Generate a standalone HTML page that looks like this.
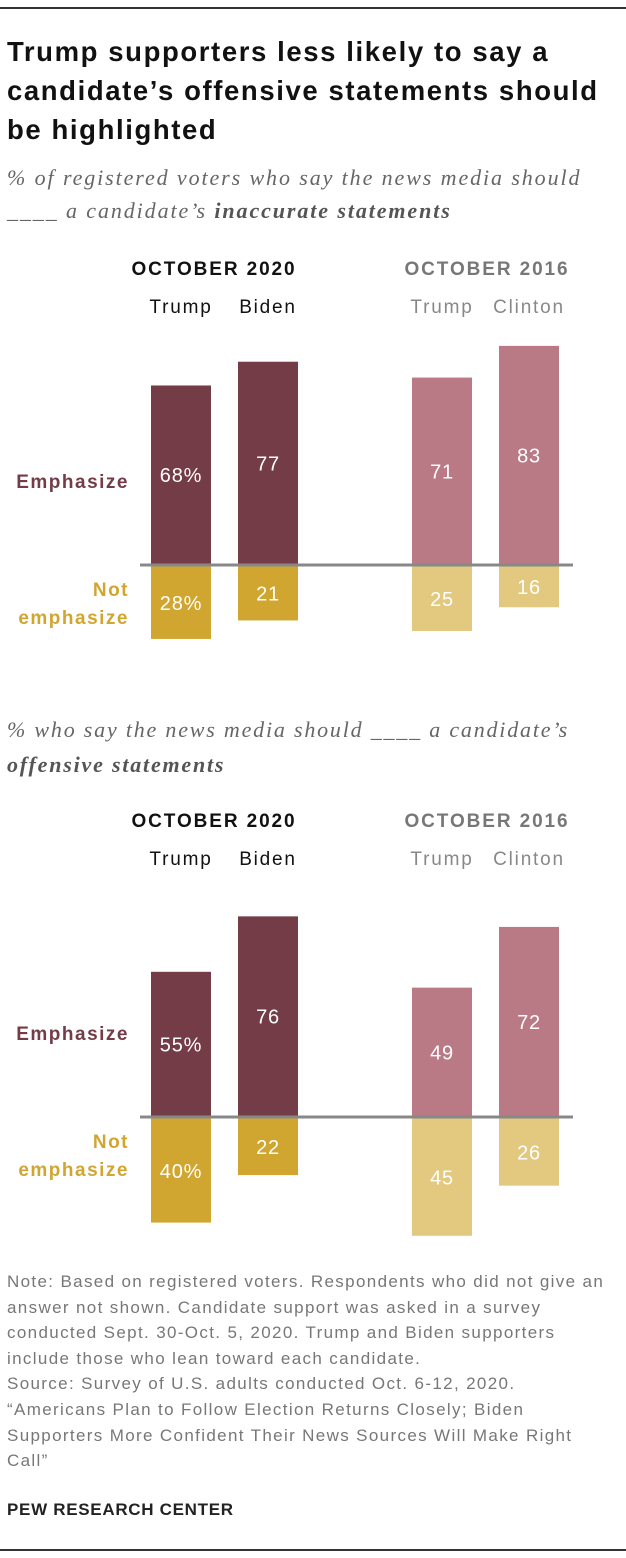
<!DOCTYPE html>
<html><head><meta charset="utf-8">
<style>
body{margin:0;width:626px;height:1558px;background:#fff;font-family:"Liberation Sans",sans-serif;position:relative;overflow:hidden}
.t{position:absolute;white-space:nowrap}
</style></head>
<body>
<div style="position:absolute;left:0;top:7px;width:626px;height:2px;background:#333"></div>
<div class="t" style="left:7px;top:32px;font-size:27.5px;font-weight:bold;line-height:39px;color:#111;letter-spacing:1.6px">Trump supporters less likely to say a<br>candidate’s offensive statements should<br>be highlighted</div>
<div class="t" style="left:7px;top:161px;font-family:'Liberation Serif',serif;font-style:italic;font-size:22px;line-height:33px;color:#666;letter-spacing:1.9px">% of registered voters who say the news media should<br>____ a candidate’s <b style="color:#555">inaccurate statements</b></div>
<div class="t" style="left:7px;top:712px;font-family:'Liberation Serif',serif;font-style:italic;font-size:22px;line-height:35px;color:#666;letter-spacing:1.8px">% who say the news media should ____ a candidate’s<br><b style="color:#555">offensive statements</b></div>
<svg id="chart" width="626" height="1260" style="position:absolute;left:0;top:0"></svg>
<div class="t" style="left:7px;top:1269px;font-size:17px;line-height:25.6px;color:#777;letter-spacing:1.35px">Note: Based on registered voters. Respondents who did not give an<br>answer not shown. Candidate support was asked in a survey<br>conducted Sept. 30-Oct. 5, 2020. Trump and Biden supporters<br>include those who lean toward each candidate.<br>Source: Survey of U.S. adults conducted Oct. 6-12, 2020.<br>“Americans Plan to Follow Election Returns Closely; Biden<br>Supporters More Confident Their News Sources Will Make Right<br>Call”</div>
<div class="t" style="left:7px;top:1500px;font-size:17px;font-weight:bold;color:#222;letter-spacing:0.7px">PEW RESEARCH CENTER</div>
<div style="position:absolute;left:0;top:1549px;width:626px;height:2px;background:#333"></div>
<script>
const candidates=["Trump","Biden","Trump","Clinton"];
const years=["OCTOBER 2020","OCTOBER 2016"];
const emph1=[68,77,71,83];
const notEmph1=[28,21,25,16];
const emph2=[55,76,49,72];
const notEmph2=[40,22,45,26];
const emphLabels1=["68%","77","71","83"];
const notLabels1=["28%","21","25","16"];
const emphLabels2=["55%","76","49","72"];
const notLabels2=["40%","22","45","26"];
const svg=document.getElementById('chart');
const NS="http://www.w3.org/2000/svg";
const K=2.64;
const xs=[151,238,412,499],BW=60;
const colE=["#733c47","#733c47","#b97a86","#b97a86"];
const colN=["#d1a630","#d1a630","#e2c97f","#e2c97f"];
function el(tag,attrs,txt){const e=document.createElementNS(NS,tag);for(const k in attrs)e.setAttribute(k,attrs[k]);if(txt!=null)e.textContent=txt;svg.appendChild(e);return e;}
function panel(base,hy,emph,nots,el1,nl1,idx){
  const y0=[214,487];const yc=["#111","#777"];
  years.forEach((yr,i)=>{const t=el('text',{x:y0[i],y:hy,'text-anchor':'middle','font-size':19,'font-weight':'bold',fill:yc[i],'letter-spacing':1.9},yr);
    
    });
  candidates.forEach((c,i)=>{const t=el('text',{x:xs[i]+BW/2,y:hy+38,'text-anchor':'middle','font-size':19,fill:i<2?'#111':'#888','letter-spacing':1.8},c);
    
    });
  emph.forEach((v,i)=>{const h=v*K;
    const r=el('rect',{x:xs[i],y:base-h,width:BW,height:h,fill:colE[i]});
    
    
    const t=el('text',{x:xs[i]+BW/2,y:base-h/2+7,'text-anchor':'middle','font-size':20,fill:'#fff','letter-spacing':0.8},el1[i]);
    
    });
  nots.forEach((v,i)=>{const h=v*K;
    const r=el('rect',{x:xs[i],y:base,width:BW,height:h,fill:colN[i]});
    
    
    const t=el('text',{x:xs[i]+BW/2,y:base+h/2+8,'text-anchor':'middle','font-size':20,fill:'#fff','letter-spacing':0.8},nl1[i]);
    
    });
  const ln=el('line',{x1:140,x2:573,y1:base,y2:base,stroke:'#888','stroke-width':3});
  
  
  const a=el('text',{x:129,y:base-77,'text-anchor':'end','font-size':19,'font-weight':'bold',fill:'#733c47','letter-spacing':1.5},'Emphasize');
  
  
  const b=el('text',{x:129,y:base+31,'text-anchor':'end','font-size':19,'font-weight':'bold',fill:'#d1a630','letter-spacing':1.5},'Not');
  
  
  const c=el('text',{x:129,y:base+59,'text-anchor':'end','font-size':19,'font-weight':'bold',fill:'#d1a630','letter-spacing':1.5},'emphasize');
  
  
}
panel(565,275,emph1,notEmph1,emphLabels1,notLabels1,1);
panel(1117,827,emph2,notEmph2,emphLabels2,notLabels2,2);
</script>
</body></html>
